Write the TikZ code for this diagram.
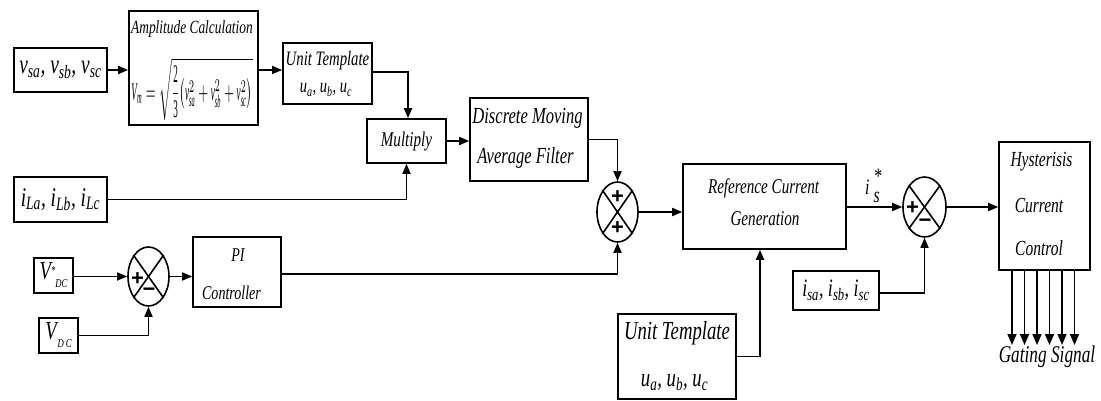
\documentclass[tikz,border=0pt]{standalone}
\usepackage{fontspec}
\setmainfont{Liberation Serif}[FakeStretch=0.72]
\newfontfamily\symf{Liberation Sans}
\usepackage{amsmath}
\usepackage{graphicx}
\usetikzlibrary{arrows.meta,shapes.geometric,calc}
\newcommand\fs[1]{\fontsize{#1}{#1}\selectfont}
\newcommand\sbs[1]{\textsubscript{#1}}
\begin{document}
\begin{tikzpicture}[x=1pt,y=-1pt,
  blk/.style={draw, line width=1.6pt, inner sep=0pt, font=\itshape},
  sumj/.style={draw, ellipse, line width=1.6pt, inner sep=0pt},
  wire/.style={line width=1.6pt},
  arr/.style={wire, -{Triangle[length=10pt,width=8pt]}},
  garr/.style={wire, -{Triangle[length=11pt,width=9pt]}},
  sgn/.style={font=\symf\bfseries\fontsize{22}{22}\selectfont, inner sep=0pt},
  txt/.style={font=\itshape, inner sep=0pt}]
\useasboundingbox (0,0) rectangle (1101,401);

% blocks
\node[blk, minimum width=93pt, minimum height=44pt] (vsa) at (60.5,70) {\fs{27}v\sbs{sa}, v\sbs{sb}, v\sbs{sc}};
\node[blk, minimum width=129pt, minimum height=114pt] (amp) at (193.5,68) {};
\node[txt] (ampt) at (192,29) {\fs{18.6}Amplitude Calculation};
\node[txt] (ampf) at (192,89) {\resizebox*{121pt}{62pt}{$\displaystyle \text{V}_{\text{m}}=\sqrt{\frac{\textup{2}}{\textup{3}}\bigl(\text{v}^{2}_{\text{sa}}+\text{v}^{2}_{\text{sb}}+\text{v}^{2}_{\text{sc}}\bigr)}$}};
\node[blk, minimum width=89pt, minimum height=61pt] (ut1) at (327.5,73.5) {};
\node[txt] (ut1t) at (327.5,61) {\fs{20.5}Unit Template};
\node[txt] (ut1u) at (326,90) {\fs{20}u\sbs{a}, u\sbs{b}, u\sbs{c}};
\node[blk, minimum width=79pt, minimum height=44pt] (mul) at (406.5,141) {\fs{21}Multiply};
\node[blk, minimum width=118pt, minimum height=83pt] (dmaf) at (529,139.5) {};
\node[txt] (dmaf1) at (527.5,118) {\fs{23}Discrete Moving};
\node[txt] (dmaf2) at (525.5,158) {\fs{23}Average Filter};
\node[blk, minimum width=93pt, minimum height=45pt] (ila) at (60.5,199.5) {\fs{27}i\sbs{La}, i\sbs{Lb}, i\sbs{Lc}};
\node[blk, minimum width=39pt, minimum height=35pt] (vdcs) at (53.5,275.5) {\fs{26}V\raisebox{5pt}{\fs{12}*}\raisebox{-8pt}{\fs{12}DC}};
\node[blk, minimum width=39pt, minimum height=35pt] (vdc) at (58.5,335.5) {\fs{26}V\hspace{1pt}\raisebox{-8pt}{\fs{12}D\,C}};
\node[sumj, minimum width=41pt, minimum height=59pt] (s1) at (148.5,276.5) {};
\node[blk, minimum width=88pt, minimum height=70pt] (pi) at (237,272) {};
\node[txt] (pit) at (238,255) {\fs{19.5}PI};
\node[txt] (pic) at (231.5,293) {\fs{19.5}Controller};
\node[sumj, minimum width=41pt, minimum height=60pt] (s2) at (617.5,212) {};
\node[blk, minimum width=163pt, minimum height=85pt] (rcg) at (764.5,206.5) {};
\node[txt] (rcg1) at (763.5,188) {\fs{21}Reference Current};
\node[txt] (rcg2) at (765,219) {\fs{21}Generation};
\node[blk, minimum width=118pt, minimum height=85pt] (ut2) at (677,356.5) {};
\node[txt] (ut2t) at (677,333) {\fs{26}Unit Template};
\node[txt] (ut2u) at (674.5,383) {\fs{26}u\sbs{a}, u\sbs{b}, u\sbs{c}};
\node[sumj, minimum width=43pt, minimum height=60pt] (s3) at (924.5,207) {};
\node[txt, anchor=base west] (istar) at (865,194) {\fs{22}i\hspace{4pt}\rlap{\raisebox{11pt}{*}}\raisebox{-9pt}{s}};
\node[blk, minimum width=86pt, minimum height=39pt] (isa) at (836,290.5) {\fs{25}i\sbs{sa}, i\sbs{sb}, i\sbs{sc}};
\node[blk, minimum width=91pt, minimum height=128pt] (hcc) at (1044.5,206) {};
\node[txt] (hcc1) at (1041.5,162) {\fs{21.5}Hysterisis};
\node[txt] (hcc2) at (1039,206) {\fs{21.5}Current};
\node[txt] (hcc3) at (1039,248) {\fs{21.5}Control};
\node[txt] (gs) at (1047,357) {\fs{24}Gating Signal};

% summing junction crosses and signs
\foreach \s in {s1,s2,s3} {
  \draw[wire] (\s.north west) -- (\s.south east);
  \draw[wire] (\s.north east) -- (\s.south west);
}
\node[sgn] (s1p) at ($(s1)+(-11,3)$) {+};
\node[sgn] (s1m) at ($(s1)+(0.5,16)$) {−};
\node[sgn] (s2p) at ($(s2)+(0,-15)$) {+};
\node[sgn] (s2q) at ($(s2)+(0,16)$) {+};
\node[sgn] (s3p) at ($(s3)+(-12,1)$) {+};
\node[sgn] (s3m) at ($(s3)+(0.5,16)$) {−};

% connectors
\draw[arr] (vsa.east) -- (vsa.east -| amp.west);
\draw[arr] (amp.east |- 0,70) -- (ut1.west |- 0,70);
\draw[arr] (ut1.east |- 0,72) -| ([xshift=1.5pt]mul.north);
\draw[arr] (ila.east) -| (mul.south);
\draw[arr] (mul.east) -- (mul.east -| dmaf.west);
\draw[arr] (dmaf.east) -| (s2.north);
\draw[arr] (vdcs.east |- s1.west) -- (s1.west);
\draw[arr] (vdc.east) -| (s1.south);
\draw[arr] (s1.east) -- (s1.east -| pi.west);
\draw[arr] (pi.east |- 0,274) -| (s2.south);
\draw[arr] (s2.east) -- (s2.east -| rcg.west);
\draw[arr] (ut2.east) -| ([xshift=-4.5pt]rcg.south);
\draw[arr] (rcg.east |- s3.west) -- (s3.west);
\draw[arr] (isa.east |- 0,293) -| (s3.south);
\draw[arr] (s3.east) -- (s3.east -| hcc.west);
\foreach \gx [count=\k] in {1012,1024.5,1037,1049.5,1062,1074.5} {
  \coordinate (g\k) at (\gx,345);
  \draw[garr] (hcc.south -| g\k) -- (g\k);
}
\end{tikzpicture}
\end{document}
